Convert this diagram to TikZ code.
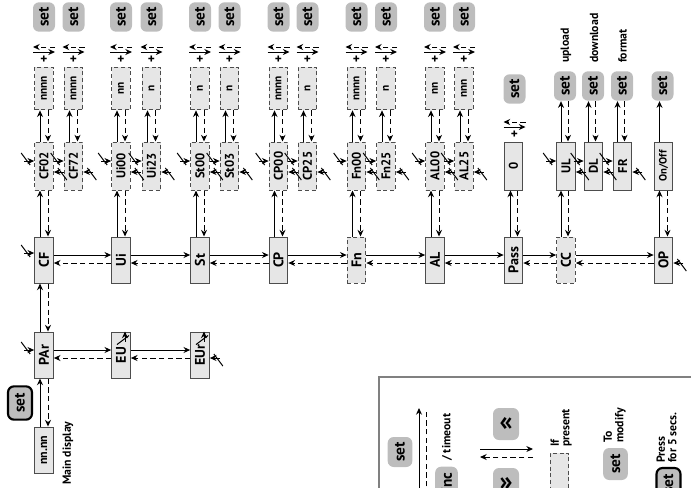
\documentclass[tikz,border=0pt]{standalone}
\usepackage{fontspec}
\usepackage{graphicx}
\setmainfont{PT Sans}
\usetikzlibrary{arrows.meta,calc}

\definecolor{boxfill}{HTML}{E6E6E6}
\definecolor{boxline}{HTML}{4D4D4D}
\definecolor{btnfill}{HTML}{BDBDBD}
\definecolor{legline}{HTML}{808080}

\tikzset{every picture/.style={line width=0.75pt}}
\tikzset{
  tip/.style={-{Stealth[length=5pt,width=4.5pt]}},
  dsh/.style={dash pattern=on 4pt off 2.5pt},
  mainbox/.style={draw=boxline, fill=boxfill, minimum width=14pt, minimum height=34.5pt, inner sep=0pt, font=\bfseries\fontsize{10.5}{12}\selectfont},
  optmain/.style={mainbox, dash pattern=on 3pt off 2pt},
  subbox/.style={mainbox, minimum height=36pt, font=\bfseries\fontsize{9.5}{11}\selectfont},
  optsub/.style={subbox, dash pattern=on 3pt off 2pt},
  valbox/.style={optsub, minimum height=32pt, font=\bfseries\fontsize{8.5}{10}\selectfont},
  setbtn/.style={fill=btnfill, rounded corners=4.5pt, minimum width=16.5pt, minimum height=22pt, inner sep=0pt, font=\bfseries\fontsize{11.5}{13}\selectfont},
  pressbtn/.style={setbtn, draw=black, line width=1.6pt},
  lbl/.style={inner sep=0.5pt, font=\bfseries\fontsize{8.8}{7.8}\selectfont},
  plus/.style={inner sep=0pt, font=\bfseries\fontsize{10}{10}\selectfont},
  tmo/.pic={\draw[tip] (-10,0) -- (0,0); \draw (-13,8) -- (-4,-4);},
  setinc/.pic={\draw[tip] (-11,-2.5) -- (11,-2.5); \draw[tip,dsh] (11,2.5) -- (-11,2.5); \node[plus] (-plus) at (0,-10) {+};}
}

\begin{document}
\begin{tikzpicture}[x=0.75pt,y=0.75pt,yscale=-1,xscale=1]
\useasboundingbox (0,0) rectangle (691,487);

% Main display and PAr row
\draw (44,450) node [mainbox, font=\bfseries\fontsize{9}{10}\selectfont] (disp) {\rotatebox{90}{nn.nn}};
\draw (68,486) node [lbl, anchor=south] (disptxt) {\rotatebox{90}{Main display}};
\draw (20,403) node [pressbtn, minimum width=18pt, minimum height=25pt] (mset) {\rotatebox{90}{set}};
\draw (44,355) node [mainbox] (PAr) {\rotatebox{90}{PAr}};
\draw (121,355) node [mainbox] (EU) {\rotatebox{90}{EU}};
\draw (200,355) node [mainbox] (EUr) {\rotatebox{90}{EUr}};

% Main row
\draw (44,260) node [mainbox] (CF) {\rotatebox{90}{CF}};
\draw (121,260) node [mainbox] (Ui) {\rotatebox{90}{Ui}};
\draw (200,260) node [mainbox] (St) {\rotatebox{90}{St}};
\draw (278.5,260) node [mainbox] (CP) {\rotatebox{90}{CP}};
\draw (356.5,260) node [optmain] (Fn) {\rotatebox{90}{Fn}};
\draw (435,260) node [mainbox] (AL) {\rotatebox{90}{AL}};
\draw (513.5,260) node [mainbox] (Pass) {\rotatebox{90}{Pass}};
\draw (566,260) node [optmain] (CC) {\rotatebox{90}{CC}};
\draw (663.5,260) node [mainbox] (OP) {\rotatebox{90}{OP}};

% Parameter row
\draw (44,166) node [optsub] (CF02) {\rotatebox{90}{CF02}};
\draw (73.5,166) node [optsub] (CF72) {\rotatebox{90}{CF72}};
\draw (121,166) node [optsub] (Ui00) {\rotatebox{90}{Ui00}};
\draw (151.5,166) node [optsub] (Ui23) {\rotatebox{90}{Ui23}};
\draw (200,166) node [optsub] (St00) {\rotatebox{90}{St00}};
\draw (229.5,166) node [optsub] (St03) {\rotatebox{90}{St03}};
\draw (278.5,166) node [optsub] (CP00) {\rotatebox{90}{CP00}};
\draw (307.5,166) node [optsub] (CP25) {\rotatebox{90}{CP25}};
\draw (356.5,166) node [optsub] (Fn00) {\rotatebox{90}{Fn00}};
\draw (386,166) node [optsub] (Fn25) {\rotatebox{90}{Fn25}};
\draw (435,166) node [optsub] (AL00) {\rotatebox{90}{AL00}};
\draw (464,166) node [optsub] (AL25) {\rotatebox{90}{AL25}};
\draw (513.5,166) node [subbox] (pzero) {\rotatebox{90}{0}};
\draw (566,166) node [subbox] (UL) {\rotatebox{90}{UL}};
\draw (593.5,166) node [subbox] (DL) {\rotatebox{90}{DL}};
\draw (622.5,166) node [subbox] (FR) {\rotatebox{90}{FR}};
\draw (663.5,166) node [subbox, font=\bfseries\fontsize{8}{9}\selectfont] (onoff) {\rotatebox{90}{On/Off}};

% Value row
\draw (44,88.5) node [valbox] (vCF02) {\rotatebox{90}{nnnn}};
\draw (73.5,88.5) node [valbox] (vCF72) {\rotatebox{90}{nnnn}};
\draw (121,88.5) node [valbox] (vUi00) {\rotatebox{90}{nn}};
\draw (151.5,88.5) node [valbox] (vUi23) {\rotatebox{90}{n}};
\draw (200,88.5) node [valbox] (vSt00) {\rotatebox{90}{n}};
\draw (229.5,88.5) node [valbox] (vSt03) {\rotatebox{90}{n}};
\draw (278.5,88.5) node [valbox] (vCP00) {\rotatebox{90}{nnnn}};
\draw (307.5,88.5) node [valbox] (vCP25) {\rotatebox{90}{n}};
\draw (356.5,88.5) node [valbox] (vFn00) {\rotatebox{90}{nnnn}};
\draw (386,88.5) node [valbox] (vFn25) {\rotatebox{90}{n}};
\draw (435,88.5) node [valbox] (vAL00) {\rotatebox{90}{nn}};
\draw (464,88.5) node [valbox] (vAL25) {\rotatebox{90}{nnn}};

% Set buttons
\draw (44,17) node [setbtn] (sCF02) {\rotatebox{90}{set}};
\draw (73.5,17) node [setbtn] (sCF72) {\rotatebox{90}{set}};
\draw (121,17) node [setbtn] (sUi00) {\rotatebox{90}{set}};
\draw (151.5,17) node [setbtn] (sUi23) {\rotatebox{90}{set}};
\draw (200,17) node [setbtn] (sSt00) {\rotatebox{90}{set}};
\draw (229.5,17) node [setbtn] (sSt03) {\rotatebox{90}{set}};
\draw (278.5,17) node [setbtn] (sCP00) {\rotatebox{90}{set}};
\draw (307.5,17) node [setbtn] (sCP25) {\rotatebox{90}{set}};
\draw (356.5,17) node [setbtn] (sFn00) {\rotatebox{90}{set}};
\draw (386,17) node [setbtn] (sFn25) {\rotatebox{90}{set}};
\draw (435,17) node [setbtn] (sAL00) {\rotatebox{90}{set}};
\draw (464,17) node [setbtn] (sAL25) {\rotatebox{90}{set}};
\draw (514.5,89) node [setbtn] (sPass) {\rotatebox{90}{set}};
\draw (565,86) node [setbtn] (sUL) {\rotatebox{90}{set}};
\draw (593,86) node [setbtn] (sDL) {\rotatebox{90}{set}};
\draw (622,86) node [setbtn] (sFR) {\rotatebox{90}{set}};
\draw (662.5,86) node [setbtn] (sOP) {\rotatebox{90}{set}};
\draw (566,64) node [lbl, anchor=south] (tUL) {\rotatebox{90}{upload}};
\draw (594,64) node [lbl, anchor=south] (tDL) {\rotatebox{90}{download}};
\draw (622.5,64) node [lbl, anchor=south] (tFR) {\rotatebox{90}{format}};

% set + arrows
\pic (kCF02) at (44,49.5) {setinc};
\pic (kCF72) at (73.5,49.5) {setinc};
\pic (kUi00) at (121,49.5) {setinc};
\pic (kUi23) at (151.5,49.5) {setinc};
\pic (kSt00) at (200,49.5) {setinc};
\pic (kSt03) at (229.5,49.5) {setinc};
\pic (kCP00) at (278.5,49.5) {setinc};
\pic (kCP25) at (307.5,49.5) {setinc};
\pic (kFn00) at (356.5,49.5) {setinc};
\pic (kFn25) at (386,49.5) {setinc};
\pic (kAL00) at (435,49.5) {setinc};
\pic (kAL25) at (464,49.5) {setinc};
\pic (kPass) at (514.5,124.5) {setinc};

%Straight Lines: main row
\draw[tip] ($(CF.east)+(0,-5)$) -- ($(Ui.west)+(0,-5)$);
\draw[tip,dsh] ($(Ui.west)+(0,3)$) -- ($(CF.east)+(0,3)$);
\draw[tip] ($(Ui.east)+(0,-5)$) -- ($(St.west)+(0,-5)$);
\draw[tip,dsh] ($(St.west)+(0,3)$) -- ($(Ui.east)+(0,3)$);
\draw[tip] ($(St.east)+(0,-5)$) -- ($(CP.west)+(0,-5)$);
\draw[tip,dsh] ($(CP.west)+(0,3)$) -- ($(St.east)+(0,3)$);
\draw[tip] ($(CP.east)+(0,-5)$) -- ($(Fn.west)+(0,-5)$);
\draw[tip,dsh] ($(Fn.west)+(0,3)$) -- ($(CP.east)+(0,3)$);
\draw[tip] ($(Fn.east)+(0,-5)$) -- ($(AL.west)+(0,-5)$);
\draw[tip,dsh] ($(AL.west)+(0,3)$) -- ($(Fn.east)+(0,3)$);
\draw[tip] ($(AL.east)+(0,-5)$) -- ($(Pass.west)+(0,-5)$);
\draw[tip,dsh] ($(Pass.west)+(0,3)$) -- ($(AL.east)+(0,3)$);
\draw[tip] ($(Pass.east)+(0,-5)$) -- ($(CC.west)+(0,-5)$);
\draw[tip,dsh] ($(CC.west)+(0,3)$) -- ($(Pass.east)+(0,3)$);
\draw[tip] ($(CC.east)+(0,-5)$) -- ($(OP.west)+(0,-5)$);
\draw[tip,dsh] ($(OP.west)+(0,3)$) -- ($(CC.east)+(0,3)$);

%Straight Lines: PAr row
\draw[tip] ($(PAr.east)+(0,-5)$) -- ($(EU.west)+(0,-5)$);
\draw[tip,dsh] ($(EU.west)+(0,3)$) -- ($(PAr.east)+(0,3)$);
\draw[tip] ($(EU.east)+(0,-5)$) -- ($(EUr.west)+(0,-5)$);
\draw[tip,dsh] ($(EUr.west)+(0,3)$) -- ($(EU.east)+(0,3)$);
\draw[tip] ($(disp.north)+(-4,0)$) -- ($(PAr.south)+(-4,0)$);
\draw[tip,dsh] ($(PAr.south)+(4,0)$) -- ($(disp.north)+(4,0)$);
\draw[tip] ($(PAr.north)+(-4,0)$) -- ($(CF.south)+(-4,0)$);
\draw[tip,dsh] ($(CF.south)+(4,0)$) -- ($(PAr.north)+(4,0)$);

%Straight Lines: main row to parameters
\draw[tip] ($(CF.north)+(-4,0)$) -- ($(CF02.south)+(-4,0)$);
\draw[tip,dsh] ($(CF02.south)+(4,0)$) -- ($(CF.north)+(4,0)$);
\draw[tip] ($(Ui.north)+(-4,0)$) -- ($(Ui00.south)+(-4,0)$);
\draw[tip,dsh] ($(Ui00.south)+(4,0)$) -- ($(Ui.north)+(4,0)$);
\draw[tip] ($(St.north)+(-4,0)$) -- ($(St00.south)+(-4,0)$);
\draw[tip,dsh] ($(St00.south)+(4,0)$) -- ($(St.north)+(4,0)$);
\draw[tip] ($(CP.north)+(-4,0)$) -- ($(CP00.south)+(-4,0)$);
\draw[tip,dsh] ($(CP00.south)+(4,0)$) -- ($(CP.north)+(4,0)$);
\draw[tip] ($(Fn.north)+(-4,0)$) -- ($(Fn00.south)+(-4,0)$);
\draw[tip,dsh] ($(Fn00.south)+(4,0)$) -- ($(Fn.north)+(4,0)$);
\draw[tip] ($(AL.north)+(-4,0)$) -- ($(AL00.south)+(-4,0)$);
\draw[tip,dsh] ($(AL00.south)+(4,0)$) -- ($(AL.north)+(4,0)$);
\draw[tip] ($(Pass.north)+(-3,0)$) -- ($(pzero.south)+(-3,0)$);
\draw[tip,dsh] ($(pzero.south)+(4,0)$) -- ($(Pass.north)+(4,0)$);
\draw[tip] ($(CC.north)+(-5,0)$) -- ($(UL.south)+(-5,0)$);
\draw[tip,dsh] ($(UL.south)+(2,0)$) -- ($(CC.north)+(2,0)$);
\draw[tip] ($(OP.north)+(-4,0)$) -- ($(onoff.south)+(-4,0)$);
\draw[tip,dsh] ($(onoff.south)+(4,0)$) -- ($(OP.north)+(4,0)$);

%Straight Lines: parameters to values
\draw[tip] ($(CF02.north)+(-4,0)$) -- ($(vCF02.south)+(-4,0)$);
\draw[tip,dsh] ($(vCF02.south)+(4,0)$) -- ($(CF02.north)+(4,0)$);
\draw[tip] ($(CF72.north)+(-4,0)$) -- ($(vCF72.south)+(-4,0)$);
\draw[tip,dsh] ($(vCF72.south)+(4,0)$) -- ($(CF72.north)+(4,0)$);
\draw[tip] ($(Ui00.north)+(-4,0)$) -- ($(vUi00.south)+(-4,0)$);
\draw[tip,dsh] ($(vUi00.south)+(4,0)$) -- ($(Ui00.north)+(4,0)$);
\draw[tip] ($(Ui23.north)+(-4,0)$) -- ($(vUi23.south)+(-4,0)$);
\draw[tip,dsh] ($(vUi23.south)+(4,0)$) -- ($(Ui23.north)+(4,0)$);
\draw[tip] ($(St00.north)+(-4,0)$) -- ($(vSt00.south)+(-4,0)$);
\draw[tip,dsh] ($(vSt00.south)+(4,0)$) -- ($(St00.north)+(4,0)$);
\draw[tip] ($(St03.north)+(-4,0)$) -- ($(vSt03.south)+(-4,0)$);
\draw[tip,dsh] ($(vSt03.south)+(4,0)$) -- ($(St03.north)+(4,0)$);
\draw[tip] ($(CP00.north)+(-4,0)$) -- ($(vCP00.south)+(-4,0)$);
\draw[tip,dsh] ($(vCP00.south)+(4,0)$) -- ($(CP00.north)+(4,0)$);
\draw[tip] ($(CP25.north)+(-4,0)$) -- ($(vCP25.south)+(-4,0)$);
\draw[tip,dsh] ($(vCP25.south)+(4,0)$) -- ($(CP25.north)+(4,0)$);
\draw[tip] ($(Fn00.north)+(-4,0)$) -- ($(vFn00.south)+(-4,0)$);
\draw[tip,dsh] ($(vFn00.south)+(4,0)$) -- ($(Fn00.north)+(4,0)$);
\draw[tip] ($(Fn25.north)+(-4,0)$) -- ($(vFn25.south)+(-4,0)$);
\draw[tip,dsh] ($(vFn25.south)+(4,0)$) -- ($(Fn25.north)+(4,0)$);
\draw[tip] ($(AL00.north)+(-4,0)$) -- ($(vAL00.south)+(-4,0)$);
\draw[tip,dsh] ($(vAL00.south)+(4,0)$) -- ($(AL00.north)+(4,0)$);
\draw[tip] ($(AL25.north)+(-4,0)$) -- ($(vAL25.south)+(-4,0)$);
\draw[tip,dsh] ($(vAL25.south)+(4,0)$) -- ($(AL25.north)+(4,0)$);

%Straight Lines: copy card and output
\draw[tip] ($(UL.north)+(-5,0)$) -- ($(sUL.south)+(-4,0)$);
\draw[tip,dsh] ($(sUL.south)+(3,0)$) -- ($(UL.north)+(2,0)$);
\draw[tip] ($(DL.north)+(-5,0)$) -- ($(sDL.south)+(-4.5,0)$);
\draw[tip,dsh] ($(sDL.south)+(2.5,0)$) -- ($(DL.north)+(2,0)$);
\draw[tip] ($(FR.north)+(-5,0)$) -- ($(sFR.south)+(-4.5,0)$);
\draw[tip,dsh] ($(sFR.south)+(2.5,0)$) -- ($(FR.north)+(2,0)$);
\draw[tip] ($(onoff.north)+(-4,0)$) -- ($(sOP.south)+(-3,0)$);

% Timeout marks
\pic at ($(CF.west)+(0,-7)$) {tmo};
\pic at ($(PAr.west)+(0,-5)$) {tmo};
\pic[rotate=90] at ($(EU.north)+(4,0)$) {tmo};
\pic[rotate=90] at ($(EUr.north)+(4,0)$) {tmo};
\pic[rotate=180] at ($(EUr.east)+(0,3)$) {tmo};
\pic[rotate=180] at ($(OP.east)+(0,3)$) {tmo};
\pic at ($(CF02.west)+(0,-5)$) {tmo};
\pic[rotate=180] at ($(CF02.east)+(0,6)$) {tmo};
\pic at ($(CF72.west)+(0,-5)$) {tmo};
\pic[rotate=180] at ($(CF72.east)+(0,6)$) {tmo};
\pic at ($(Ui00.west)+(0,-5)$) {tmo};
\pic[rotate=180] at ($(Ui00.east)+(0,6)$) {tmo};
\pic at ($(Ui23.west)+(0,-5)$) {tmo};
\pic[rotate=180] at ($(Ui23.east)+(0,6)$) {tmo};
\pic at ($(St00.west)+(0,-5)$) {tmo};
\pic[rotate=180] at ($(St00.east)+(0,6)$) {tmo};
\pic at ($(St03.west)+(0,-5)$) {tmo};
\pic[rotate=180] at ($(St03.east)+(0,6)$) {tmo};
\pic at ($(CP00.west)+(0,-5)$) {tmo};
\pic[rotate=180] at ($(CP00.east)+(0,6)$) {tmo};
\pic at ($(CP25.west)+(0,-5)$) {tmo};
\pic[rotate=180] at ($(CP25.east)+(0,6)$) {tmo};
\pic at ($(Fn00.west)+(0,-5)$) {tmo};
\pic[rotate=180] at ($(Fn00.east)+(0,6)$) {tmo};
\pic at ($(Fn25.west)+(0,-5)$) {tmo};
\pic[rotate=180] at ($(Fn25.east)+(0,6)$) {tmo};
\pic at ($(AL00.west)+(0,-5)$) {tmo};
\pic[rotate=180] at ($(AL00.east)+(0,6)$) {tmo};
\pic at ($(AL25.west)+(0,-5)$) {tmo};
\pic[rotate=180] at ($(AL25.east)+(0,6)$) {tmo};
\pic at ($(UL.west)+(0,-5)$) {tmo};
\pic[rotate=180] at ($(UL.east)+(0,6)$) {tmo};
\pic at ($(DL.west)+(0,-5)$) {tmo};
\pic[rotate=180] at ($(DL.east)+(0,6)$) {tmo};
\pic at ($(FR.west)+(0,-5)$) {tmo};
\pic[rotate=180] at ($(FR.east)+(0,6)$) {tmo};

% Legend
\draw[legline, line width=1.3pt] (379,500) -- (379,377) -- (700,377);
\draw (400,452) node [setbtn, minimum width=18.5pt, minimum height=22.5pt] (lset) {\rotatebox{90}{set}};
\coordinate (la1) at (419,495);
\coordinate (la2) at (419,408);
\draw[tip] (la1) -- (la2);
\draw[dsh] ($(la1)+(7,0)$) -- ($(la2)+(7,2)$);
\draw (446.5,482) node [setbtn, minimum width=17pt, minimum height=23pt] (linc) {\rotatebox{90}{inc}};
\draw (447,462) node [lbl, anchor=south] (ltmo) {\rotatebox{90}{/ timeout}};
\draw (506,424) node [setbtn, minimum width=19.5pt, minimum height=24pt, font=\bfseries\fontsize{20}{20}\selectfont] (lup) {«};
\draw (506,484) node [setbtn, minimum width=19.5pt, minimum height=24pt, font=\bfseries\fontsize{20}{20}\selectfont] (ldn) {»};
\coordinate (lh1) at (480,449);
\coordinate (lh2) at (533,449);
\draw[tip] (lh1) -- (lh2);
\draw[tip,dsh] ($(lh2)+(0,8)$) -- ($(lh1)+(0,8)$);
\draw (559.5,478) node [optsub, minimum height=37pt] (lopt) {};
\draw (561.5,448) node [lbl, anchor=south] (lopttxt) {\rotatebox{90}{\begin{tabular}{@{}l@{}}If\\present\end{tabular}}};
\draw (615.5,464) node [setbtn, minimum width=18.5pt, minimum height=24pt] (lmod) {\rotatebox{90}{set}};
\draw (615,444) node [lbl, anchor=south] (lmodtxt) {\rotatebox{90}{\begin{tabular}{@{}l@{}}To\\modify\end{tabular}}};
\draw (668.5,484) node [pressbtn, minimum width=18pt, minimum height=24pt] (lpress) {\rotatebox{90}{set}};
\draw (668,464) node [lbl, anchor=south] (lpresstxt) {\rotatebox{90}{\begin{tabular}{@{}l@{}}Press\\for 5 secs.\end{tabular}}};

\end{tikzpicture}
\end{document}
